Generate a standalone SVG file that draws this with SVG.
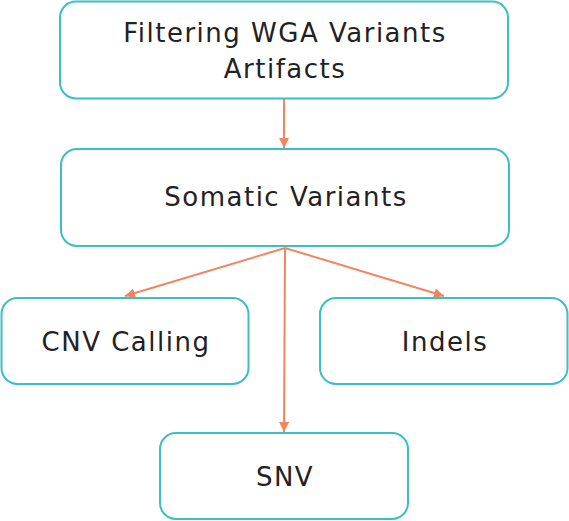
<svg xmlns="http://www.w3.org/2000/svg" width="569" height="521" viewBox="0 0 569 521">
<style>
.box{fill:#fff;stroke:#3cbfc4;stroke-width:2}
.t{font-family:"DejaVu Sans","Noto Sans",sans-serif;font-size:26px;letter-spacing:1.5px;fill:#222;text-anchor:middle;dominant-baseline:central}
.c{stroke:#f4845f;stroke-width:2;fill:none;marker-end:url(#ah)}
</style>
<defs>
<marker id="ah" viewBox="0 0 10 10" refX="10" refY="5" markerWidth="10" markerHeight="10" orient="auto" markerUnits="userSpaceOnUse">
<path d="M0,0 L10,5 L0,10 z" fill="#f4845f"/>
</marker>
</defs>
<rect width="569" height="521" fill="#fff"/>
<g id="connectors">
<line class="c" x1="284" y1="99" x2="284" y2="148"/>
<line class="c" x1="285" y1="248" x2="125" y2="296"/>
<line class="c" x1="285" y1="248" x2="444" y2="296"/>
<line class="c" x1="285" y1="248" x2="284" y2="432"/>
</g>
<g id="n1"><rect class="box" x="60" y="1.5" width="448" height="97" rx="16"/>
<text class="t" x="285" y="33">Filtering WGA Variants</text>
<text class="t" x="285" y="69">Artifacts</text></g>
<g id="n2"><rect class="box" x="61" y="149" width="448" height="97" rx="16"/>
<text class="t" x="286" y="197">Somatic Variants</text></g>
<g id="n3"><rect class="box" x="1.5" y="298" width="247" height="86" rx="16"/>
<text class="t" x="126" y="342">CNV Calling</text></g>
<g id="n4"><rect class="box" x="320" y="298" width="247.5" height="86" rx="16"/>
<text class="t" x="445" y="342">Indels</text></g>
<g id="n5"><rect class="box" x="160" y="433" width="248" height="86" rx="16"/>
<text class="t" x="285" y="477">SNV</text></g>
</svg>
